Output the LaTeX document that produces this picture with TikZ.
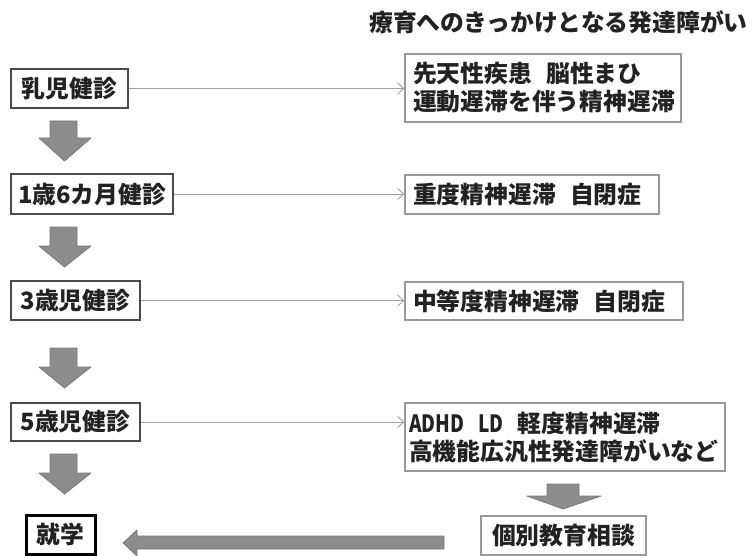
\documentclass[tikz,border=0pt]{standalone}
\usepackage{fontspec}
\setmainfont{Noto Sans CJK JP}
\usetikzlibrary{arrows.meta}
\definecolor{boxl}{HTML}{4A4A4A}
\definecolor{boxr}{HTML}{9A9A9A}
\definecolor{connc}{HTML}{A0A0A0}
\definecolor{textc}{HTML}{222222}
\definecolor{arrowfill}{HTML}{8C8C8C}
\definecolor{arrowedge}{HTML}{7A7A7A}
\begin{document}
\begin{tikzpicture}[x=1pt,y=-1pt,
  txt/.style={font=\fontsize{23.8}{28}\selectfont\bfseries, text=textc},
  lbox/.style={txt, draw=boxl, line width=1.3pt, fill=white, inner sep=0pt, align=center},
  rbox/.style={txt, draw=boxr, line width=1.3pt, fill=white, inner ysep=0pt, inner xsep=8pt, align=left},
  conn/.style={draw=connc, line width=0.9pt, -{Straight Barb[length=6pt,width=11pt]}},
  blk/.style={fill=arrowfill, draw=arrowedge, line width=0.8pt, line join=round}]
\useasboundingbox (0,0) rectangle (752,556);

% title
\node[txt, anchor=west, inner sep=0pt] (title) at (369,22) {療育へのきっかけとなる発達障がい};

% left column
\node[lbox, minimum width=117pt, minimum height=39pt] (a1) at (69.5,88.5) {乳児健診};
\node[lbox, minimum width=162pt, minimum height=40pt] (a2) at (92,194) {1歳6カ月健診};
\node[lbox, minimum width=129pt, minimum height=39pt] (a3) at (75.5,300.5) {3歳児健診};
\node[lbox, minimum width=129pt, minimum height=38pt] (a4) at (75.5,422) {5歳児健診};
\node[lbox, draw=black, line width=3pt, minimum width=69pt, minimum height=39pt] (school) at (60.5,534.5) {就学};

% right column
\node[rbox, text width=260pt, minimum height=68pt] (b1) at (543,88) {先天性疾患\hspace{0.6em}脳性まひ\\運動遅滞を伴う精神遅滞};
\node[rbox, text width=238pt, minimum height=39pt] (b2) at (532,194.5) {重度精神遅滞\hspace{0.6em}自閉症};
\node[rbox, text width=262pt, minimum height=38pt] (b3) at (544,301) {中等度精神遅滞\hspace{0.6em}自閉症};
\node[rbox, inner xsep=4pt, text width=312pt, minimum height=68pt] (b4) at (565,437) {\scalebox{0.8}[1]{ADHD}\hspace{0.6em}\scalebox{0.8}[1]{LD}\hspace{0.6em}軽度精神遅滞\\高機能広汎性発達障がいなど};
\node[lbox, draw=boxr, minimum width=165pt, minimum height=39pt] (consult) at (563.5,535.5) {個別教育相談};

% connectors
\foreach \a/\b in {a1/b1, a2/b2, a3/b3, a4/b4}
  \draw[conn] (\a.east) -- (\a.east -| \b.west);

% block arrows (left column)
\foreach \t/\h/\p in {121/138/161, 227/246/267, 348/367/388, 454/473/494}
  \draw[blk] (50,\t) -- (77,\t) -- (77,\h) -- (91,\h) -- (64.5,\p) -- (39,\h) -- (50,\h) -- cycle;

% block arrow right column
\draw[blk] (547,484) -- (579,484) -- (579,496) -- (601,496) -- (563,509) -- (527,496) -- (547,496) -- cycle;

% big left arrow
\draw[blk] (444,536) -- (444,549) -- (137,549) -- (137,556) -- (123,543) -- (137,530) -- (137,536) -- cycle;
\end{tikzpicture}
\end{document}
